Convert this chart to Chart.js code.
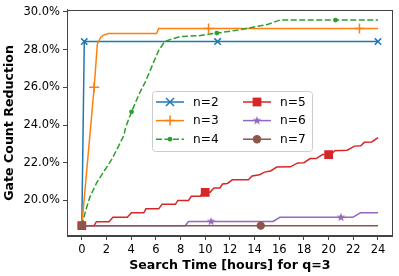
<!DOCTYPE html>
<html>
<head>
<meta charset="utf-8">
<script src="https://cdn.jsdelivr.net/npm/chart.js@4"></script>
<style>
  html, body { margin: 0; padding: 0; background: #fff; }
  #wrap { width: 399px; height: 276px; }
</style>
</head>
<body>
<div id="wrap"><canvas id="gateChart" width="399" height="276"></canvas></div>
<script>
// values
const xTicks = [0, 2, 4, 6, 8, 10, 12, 14, 16, 18, 20, 22, 24];
const yTicks = [20, 22, 24, 26, 28, 30];

const hoursN2 = [0, 0.2, 11, 24];
const gainN2 = [18.66, 28.43, 28.43, 28.43];
const marksN2 = [1, 2, 3];

const hoursN3 = [0, 1.0, 1.26, 1.53, 1.74, 2.15, 6.05, 6.23, 10.27, 22.5, 24];
const gainN3 = [18.66, 26.0, 28.3, 28.66, 28.76, 28.86, 28.86, 29.12, 29.12, 29.12, 29.12];
const marksN3 = [1, 8, 9];

const hoursN4 = [0, 0.32, 0.65, 1.2, 1.8, 2.47, 2.95, 3.41, 3.55, 4.03, 4.62, 5.16, 5.83, 6.23, 6.72,
                 7.31, 7.98, 9.46, 10.94, 12.69, 13.5, 15.1, 16.05, 20.56, 24];
const gainN4 = [18.66, 19.48, 20.17, 20.93, 21.54, 22.23, 22.84, 23.45, 23.88, 24.70, 25.61, 26.31, 27.35, 27.96, 28.43,
                28.57, 28.7, 28.74, 28.88, 29.04, 29.14, 29.35, 29.57, 29.57, 29.57];
const marksN4 = [9, 18, 23];

const hoursN5 = [0, 0.99, 1.18, 2.2, 2.52, 3.68, 4.03, 5.02, 5.2, 6.23, 6.5, 7.58, 7.79, 8.65, 8.87, 9.6, 9.8,
                 10.0, 10.4, 10.7, 11.2, 11.4, 11.8, 12.2, 13.5, 13.8, 14.4, 14.8, 15.3, 15.8, 16.9, 17.5, 18.0,
                 18.5, 19.0, 19.5, 20.0, 20.2, 20.5, 21.5, 22.1, 22.6, 22.9, 23.5, 24.0];
const gainN5 = [18.66, 18.66, 18.87, 18.87, 19.1, 19.1, 19.34, 19.34, 19.55, 19.55, 19.79, 19.79, 20.0, 20.0, 20.22, 20.22, 20.43,
                20.43, 20.43, 20.66, 20.66, 20.87, 20.9, 21.09, 21.09, 21.3, 21.36, 21.5, 21.56, 21.77, 21.78, 21.99, 22.0,
                22.22, 22.22, 22.43, 22.43, 22.43, 22.64, 22.66, 22.88, 22.9, 23.08, 23.1, 23.33];
const marksN5 = [0, 17, 36];

const hoursN6 = [0, 8.38, 8.65, 10.48, 15.5, 16.05, 21.0, 21.96, 22.58, 24];
const gainN6 = [18.66, 18.66, 18.88, 18.88, 18.88, 19.1, 19.1, 19.1, 19.34, 19.34];
const marksN6 = [0, 3, 6];

const hoursN7 = [0, 14.5, 24];
const gainN7 = [18.66, 18.66, 18.66];
const marksN7 = [0, 1];

const FONT = 'DejaVu Sans';

function toPoints(xs, ys) {
    return xs.map((x, i) => ({ x: x, y: ys[i] }));
}

// filled five point star for n=6
function makeStar(color, r) {
    const c = document.createElement('canvas');
    const s = Math.ceil(r * 2 + 2);
    c.width = s;
    c.height = s;
    const g = c.getContext('2d');
    g.fillStyle = color;
    g.beginPath();
    for (let i = 0; i < 10; i++) {
        const rad = i % 2 === 0 ? r : r * 0.42;
        const a = -Math.PI / 2 + i * Math.PI / 5;
        const px = s / 2 + rad * Math.cos(a);
        const py = s / 2 + rad * Math.sin(a);
        if (i === 0) g.moveTo(px, py); else g.lineTo(px, py);
    }
    g.closePath();
    g.fill();
    return c;
}
const starImg = makeStar('#9467bd', 4.6);

function series(label, xs, ys, marks, color, style, radius, extra) {
    return Object.assign({
        label: label,
        data: toPoints(xs, ys),
        borderColor: color,
        backgroundColor: color,
        borderWidth: 1.5,
        pointStyle: style,
        pointRadius: ctx => marks.includes(ctx.dataIndex) ? radius : 0,
        pointHoverRadius: 0,
        pointBorderWidth: 1.5,
        pointBorderColor: color,
        pointBackgroundColor: color,
        tension: 0,
        fill: false,
    }, extra || {});
}

const datasets = [
    series('n=2', hoursN2, gainN2, marksN2, '#1f77b4', 'crossRot', 4.5, { order: 6 }),
    series('n=3', hoursN3, gainN3, marksN3, '#ff7f0e', 'cross', 5, { order: 5 }),
    series('n=4', hoursN4, gainN4, marksN4, '#2ca02c', 'circle', 2.4, { order: 4, borderDash: [6, 2.5], pointBorderWidth: 0 }),
    series('n=5', hoursN5, gainN5, marksN5, '#d62728', 'rect', 6.2, { order: 3, pointBorderWidth: 0 }),
    series('n=6', hoursN6, gainN6, marksN6, '#9467bd', starImg, 4.5, { order: 2 }),
    series('n=7', hoursN7, gainN7, marksN7, '#8c564b', 'circle', 4.2, { order: 1, pointBorderWidth: 0 }),
];

// axes box on all four sides
const frame = {
    id: 'frame',
    afterDatasetsDraw(chart) {
        const a = chart.chartArea;
        const c = chart.ctx;
        c.save();
        c.strokeStyle = '#444';
        c.lineWidth = 1;
        c.strokeRect(Math.round(a.left) + 0.5, Math.round(a.top) + 0.5,
                     Math.round(a.right - a.left) - 1, Math.round(a.bottom - a.top) - 1);
        c.restore();
    }
};

function drawMarker(c, kind, x, y, color) {
    c.save();
    c.strokeStyle = color;
    c.fillStyle = color;
    c.lineWidth = 1.5;
    c.beginPath();
    if (kind === 'x') {
        c.moveTo(x - 4, y - 4); c.lineTo(x + 4, y + 4);
        c.moveTo(x - 4, y + 4); c.lineTo(x + 4, y - 4);
        c.stroke();
    } else if (kind === '+') {
        c.moveTo(x - 5, y); c.lineTo(x + 5, y);
        c.moveTo(x, y - 5); c.lineTo(x, y + 5);
        c.stroke();
    } else if (kind === 'dot') {
        c.arc(x, y, 2.4, 0, Math.PI * 2);
        c.fill();
    } else if (kind === 'square') {
        c.rect(x - 4.4, y - 4.4, 8.8, 8.8);
        c.fill();
    } else if (kind === 'star') {
        c.drawImage(starImg, x - starImg.width / 2, y - starImg.height / 2);
    } else if (kind === 'circle') {
        c.arc(x, y, 4.2, 0, Math.PI * 2);
        c.fill();
    }
    c.restore();
}

const legendItems = [
    { ds: 0, kind: 'x', col: 0, row: 0 },
    { ds: 1, kind: '+', col: 0, row: 1 },
    { ds: 2, kind: 'dot', col: 0, row: 2 },
    { ds: 3, kind: 'square', col: 1, row: 0 },
    { ds: 4, kind: 'star', col: 1, row: 1 },
    { ds: 5, kind: 'circle', col: 1, row: 2 },
];

const boxLegend = {
    id: 'boxLegend',
    afterDraw(chart) {
        const c = chart.ctx;
        c.save();
        const bx = 152, by = 91, bw = 160, bh = 60;
        c.fillStyle = 'rgba(255,255,255,0.8)';
        c.strokeStyle = '#cccccc';
        c.lineWidth = 1;
        c.beginPath();
        c.roundRect(bx + 0.5, by + 0.5, bw, bh, 3);
        c.fill();
        c.stroke();
        c.font = '12.2px "' + FONT + '"';
        c.textBaseline = 'middle';
        c.fillStyle = '#000';
        legendItems.forEach(item => {
            const ds = chart.data.datasets[item.ds];
            const x0 = item.col === 0 ? 156 : 243;
            const y = 102 + item.row * 18.6;
            c.save();
            c.strokeStyle = ds.borderColor;
            c.lineWidth = 1.5;
            if (ds.borderDash) c.setLineDash(ds.borderDash);
            c.beginPath();
            c.moveTo(x0, y);
            c.lineTo(x0 + 28, y);
            c.stroke();
            c.restore();
            drawMarker(c, item.kind, x0 + 14, y, ds.borderColor);
            c.fillStyle = '#000';
            c.fillText(ds.label, x0 + 37, y + 0.5);
        });
        c.restore();
    }
};

const tickFont = { family: FONT, size: 11.5 };
const titleFont = { family: FONT, size: 12.6, weight: 'bold' };

new Chart(document.getElementById('gateChart'), {
    type: 'line',
    data: { datasets: datasets },
    options: {
        responsive: false,
        animation: false,
        events: [],
        layout: { padding: { top: 6, right: 6, left: 0, bottom: 0 } },
        plugins: {
            legend: { display: false },
            tooltip: { enabled: false },
        },
        scales: {
            x: {
                type: 'linear',
                min: -1.2,
                max: 25.2,
                afterBuildTicks: s => { s.ticks = xTicks.map(v => ({ value: v })); },
                afterFit: s => { s.height = 40; },
                ticks: { font: tickFont, color: '#000', maxRotation: 0, autoSkip: false, padding: 3 },
                grid: { drawOnChartArea: false, tickLength: 4, color: '#444' },
                border: { color: '#444' },
                title: { display: true, text: 'Search Time [hours] for q=3', font: titleFont, color: '#000', padding: { top: 0, bottom: 3 } },
            },
            y: {
                type: 'linear',
                min: 18.11,
                max: 30.11,
                afterBuildTicks: s => { s.ticks = yTicks.map(v => ({ value: v })); },
                afterFit: s => { s.width = 67; },
                ticks: { font: tickFont, color: '#000', padding: 3, callback: v => v.toFixed(1) + '%' },
                grid: { drawOnChartArea: false, tickLength: 4, color: '#444' },
                border: { color: '#444' },
                title: { display: true, text: 'Gate Count Reduction', font: titleFont, color: '#000', padding: { top: 2, bottom: 0 } },
            },
        },
    },
    plugins: [frame, boxLegend],
});
</script>
</body>
</html>
